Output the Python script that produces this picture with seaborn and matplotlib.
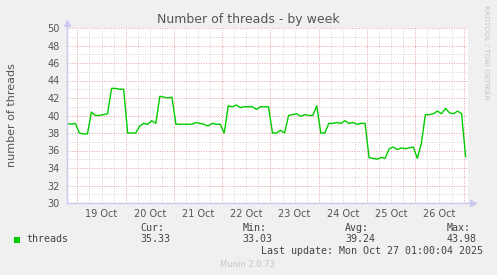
import matplotlib
matplotlib.use("Agg")
import matplotlib.pyplot as plt
import matplotlib.dates as mdates
from matplotlib.lines import Line2D
from matplotlib.patches import Rectangle
import seaborn as sns
import pandas as pd
import numpy as np

# ---- data (2-hourly samples, from 18 Oct 19:00) ----
start_time = "2025-10-18 19:00"
threads = [
    39.1, 39.0, 39.1, 38.0, 37.9, 37.9, 40.4, 40.0, 40.0, 40.1,
    40.2, 43.1, 43.1, 43.0, 43.0, 38.0, 38.0, 38.0, 38.8, 39.1,
    39.0, 39.4, 39.1, 42.2, 42.1, 42.0, 42.1, 39.0, 39.0, 39.0,
    39.0, 39.0, 39.2, 39.1, 39.0, 38.8, 39.1, 39.0, 39.0, 38.0,
    41.1, 41.0, 41.2, 40.9, 41.0, 41.0, 41.0, 40.7, 41.0, 41.0,
    41.0, 38.0, 38.0, 38.3, 38.0, 40.0, 40.1, 40.2, 39.9, 40.1,
    40.0, 40.0, 41.1, 38.0, 38.0, 39.1, 39.1, 39.2, 39.1, 39.4,
    39.1, 39.2, 39.0, 39.1, 39.1, 35.2, 35.1, 35.0, 35.2, 35.1,
    36.2, 36.4, 36.1, 36.3, 36.2, 36.3, 36.4, 35.1, 36.8, 40.1,
    40.1, 40.2, 40.5, 40.2, 40.8, 40.3, 40.2, 40.5, 40.2, 35.3,
]
day_labels = ["19 Oct", "20 Oct", "21 Oct", "22 Oct", "23 Oct", "24 Oct", "25 Oct", "26 Oct"]
legend_name = "threads"
stat_names = ["Cur:", "Min:", "Avg:", "Max:"]
stat_values = ["35.33", "33.03", "39.24", "43.98"]

times = pd.date_range(start_time, periods=len(threads), freq="2h")
df = pd.DataFrame({"time": times, "threads": threads})

W, H = 497, 275
fig = plt.figure(figsize=(W / 100, H / 100), dpi=100)
fig.patch.set_facecolor("#F0F0F0")

def fx(px):
    return px / W

def fy(py):
    return 1 - py / H

ax_l, ax_r, ax_t, ax_b = 67, 468, 28, 203
ax = fig.add_axes([fx(ax_l), fy(ax_b), (ax_r - ax_l) / W, (ax_b - ax_t) / H])
ax.set_facecolor("white")

sns.lineplot(data=df, x="time", y="threads", ax=ax, color="#00CC00", linewidth=1.0, zorder=3)

# x limits: 18 Oct 18:51 to 27 Oct 02:10
x0 = pd.Timestamp("2025-10-18 18:51")
x1 = pd.Timestamp("2025-10-27 02:11")
ax.set_xlim(x0, x1)
ax.set_ylim(30, 50)

# grids
ax.xaxis.set_major_locator(mdates.DayLocator())
ax.xaxis.set_minor_locator(mdates.HourLocator(byhour=[6, 12, 18]))
ax.xaxis.set_major_formatter(plt.NullFormatter())
labels_iter = {}
def minor_fmt(x, pos):
    d = mdates.num2date(x)
    if d.hour == 12:
        return d.strftime("%d %b").lstrip("0")
    return ""
ax.xaxis.set_minor_formatter(plt.FuncFormatter(minor_fmt))
ax.set_yticks(np.arange(30, 51, 2))
ax.set_yticks(np.arange(31, 50, 2), minor=True)

dot = (0, (1, 1.5))
ax.grid(which="major", color="#E8A0A0", linestyle=dot, linewidth=0.7, zorder=1)
ax.grid(which="minor", color="#D4D4D4", linestyle=dot, linewidth=0.7, zorder=1)

ax.tick_params(axis="x", which="both", length=0, pad=4, labelsize=7, labelcolor="#555555")
ax.tick_params(axis="y", which="both", length=0, pad=5, labelsize=7, labelcolor="#555555")
ax.set_xlabel("")
ax.set_ylabel("")
for s in ax.spines.values():
    s.set_visible(False)

# axes lines with arrows
axis_col = "#C8C8F0"
tr = ax.transAxes
ax.add_line(Line2D([0, 0], [0, 1 + 5 / 175], transform=tr, color=axis_col, lw=1, clip_on=False, zorder=4))
ax.add_line(Line2D([0, 1 + 4 / 401], [0, 0], transform=tr, color=axis_col, lw=1, clip_on=False, zorder=4))
ax.plot([0], [1 + 5 / 175], marker="^", ms=4.5, color=axis_col, transform=tr, clip_on=False, zorder=4)
ax.plot([1 + 5 / 401], [0], marker=">", ms=4.5, color=axis_col, transform=tr, clip_on=False, zorder=4)

# texts
fig.text(fx(248.5), fy(19), "Number of threads - by week", ha="center", va="center",
         fontsize=9, color="#555555")
fig.text(fx(11.7), fy(114.7), "number of threads", rotation=90, ha="center", va="center",
         fontsize=8, color="#555555")
fig.text(fx(486), fy(52), "RRDTOOL / TOBI OETIKER", rotation=270, ha="center", va="center",
         fontsize=5.3, color="#C4C4C4")
fig.text(fx(247.5), fy(264.3), "Munin 2.0.73", ha="center", va="center", fontsize=6, color="#C4C4C4")

mono = dict(family="DejaVu Sans Mono", fontsize=7.2, color="#444444", va="center")
fig.add_artist(Rectangle((fx(14), fy(243)), 6 / W, 6 / H, transform=fig.transFigure,
                         color="#00CC00", lw=0))
fig.text(fx(26.5), fy(239.5), legend_name, ha="left", **mono)
stat_x = [140, 242.5, 345, 446.5]
for sx, name, val in zip(stat_x, stat_names, stat_values):
    fig.text(fx(sx), fy(228), name, ha="left", **mono)
    fig.text(fx(sx), fy(239.5), val, ha="left", **mono)
fig.text(fx(261), fy(251.5), "Last update: Mon Oct 27 01:00:04 2025", ha="left", **mono)

fig.savefig("out.png", dpi=100, facecolor=fig.get_facecolor())
